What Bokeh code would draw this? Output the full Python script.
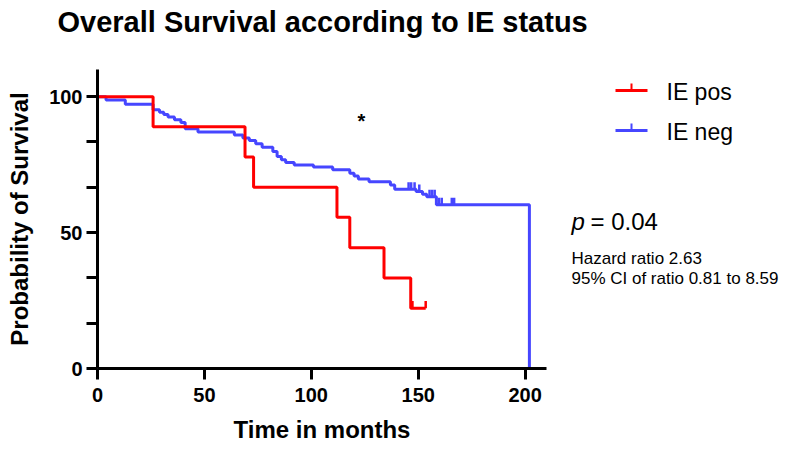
from bokeh.plotting import figure
from bokeh.layouts import column, row
from bokeh.models import Range1d, FixedTicker
from bokeh.core.properties import value
from bokeh.embed import file_html
from bokeh.resources import INLINE

# ---- data ----
pos_time = [0, 26, 69, 73, 112, 118, 134, 146.5, 153.5]
pos_surv = [100, 88.9, 77.8, 66.7, 55.6, 44.4, 33.3, 22.2, 22.2]
pos_cens_time = [147.3, 153.5]
pos_cens_surv = [22.2, 22.2]

neg_time = [0, 4, 13, 26, 29, 31, 33, 36, 39, 41, 47, 64, 68, 71, 74, 77, 82, 84, 86, 88,
            92, 101, 110, 118, 120, 122, 127, 137, 139, 149, 152, 154, 158.5, 202]
neg_surv = [100, 98.8, 97.2, 95.2, 94.3, 93.4, 92.5, 91.5, 90.5, 88.2, 87.0, 85.9, 84.8, 83.9,
            82.7, 81.4, 79.8, 78.0, 76.8, 75.8, 74.9, 74.1, 73.1, 71.8, 70.8, 69.7, 68.7, 67.5,
            65.9, 65.1, 64.1, 63.2, 60.2, 0]
neg_cens_time = [145.5, 146.7, 148.3, 150.5, 155.3, 156.5, 157.7, 159.7, 161.0, 165.7, 166.8]
neg_cens_surv = [65.9, 65.9, 65.9, 65.1, 63.2, 63.2, 63.2, 60.2, 60.2, 60.2, 60.2]

x_ticks = [0, 50, 100, 150, 200]
y_ticks = [0, 50, 100]
y_minor = [16.67, 33.33, 66.67, 83.33]

series_names = ["IE pos", "IE neg"]
colors = ["#ff0000", "#4646ff"]
title = "Overall Survival according to IE status"
x_title = "Time in months"
y_title = "Probability of Survival"
star_text = "*"
p_label = "p"
p_text = "= 0.04"
hr_lines = ["Hazard ratio 2.63", "95% CI of ratio 0.81 to 8.59"]

FONT = "Liberation Sans"
TICK = 2.6  # censor tick height (data units of the main plot)


def bare(fig):
    fig.grid.visible = False
    fig.outline_line_color = None
    return fig


# ---- title strip ----
t = bare(figure(width=794, height=45, x_range=Range1d(0, 794), y_range=Range1d(45, 0),
                title=None, x_axis_location=None, y_axis_location=None,
                output_backend="svg", toolbar_location=None, min_border=0))
t.text(x=[57], y=[21], text=[title], text_font=value(FONT), text_font_style="bold",
       text_font_size="29px", text_color="black", text_baseline="alphabetic")

# ---- main plot ----
p = bare(figure(width=560, height=410, x_range=Range1d(0, 210), y_range=Range1d(0, 110),
                title=None, output_backend="svg", toolbar_location=None,
                min_border_left=97, min_border_right=14, min_border_top=24,
                min_border_bottom=87))
p.xaxis.axis_label = x_title
p.yaxis.axis_label = y_title
for ax in (p.xaxis[0], p.yaxis[0]):
    ax.axis_line_width = 3
    ax.axis_line_color = "black"
    ax.major_tick_line_width = 3
    ax.major_tick_line_color = "black"
    ax.major_tick_in = 0
    ax.major_tick_out = 11
    ax.minor_tick_in = 0
    ax.minor_tick_out = 11
    ax.minor_tick_line_width = 3
    ax.minor_tick_line_color = "black"
    ax.major_label_text_font = FONT
    ax.major_label_text_font_style = "bold"
    ax.major_label_text_font_size = "20px"
    ax.major_label_text_color = "black"
    ax.axis_label_text_font = FONT
    ax.axis_label_text_font_style = "bold"
    ax.axis_label_text_font_size = "24px"
    ax.axis_label_text_color = "black"

p.xaxis.ticker = FixedTicker(ticks=x_ticks)
p.xaxis.major_label_standoff = 8
p.xaxis.axis_label_standoff = 11
p.yaxis.ticker = FixedTicker(ticks=y_ticks, minor_ticks=y_minor)
p.yaxis.major_label_standoff = 4
p.yaxis.axis_label_standoff = 13

p.step(neg_time, neg_surv, mode="after", line_color=colors[1], line_width=3)
p.segment(x0=neg_cens_time, y0=neg_cens_surv, x1=neg_cens_time,
          y1=[s + TICK for s in neg_cens_surv], line_color=colors[1], line_width=2.5)
p.step(pos_time, pos_surv, mode="after", line_color=colors[0], line_width=3)
p.segment(x0=pos_cens_time, y0=pos_cens_surv, x1=pos_cens_time,
          y1=[s + TICK for s in pos_cens_surv], line_color=colors[0], line_width=2.5)

p.text(x=[123.4], y=[91.2], text=[star_text], text_font=value(FONT), text_font_style="bold",
       text_font_size="20px", text_color="black", text_align="center",
       text_baseline="alphabetic")

# ---- side panel: legend and statistics (frame aligned with the main plot's frame) ----
s = bare(figure(width=234, height=410, x_range=Range1d(560, 794), y_range=Range1d(368, 69),
                title=None, x_axis_location=None, y_axis_location=None,
                output_backend="svg", toolbar_location=None,
                min_border_left=0, min_border_right=0, min_border_top=24,
                min_border_bottom=87))
leg_y = [90.0, 130.0]
for i, name in enumerate(series_names):
    s.line([615, 647], [leg_y[i], leg_y[i]], line_color=colors[i], line_width=3)
    s.segment(x0=[631], y0=[leg_y[i]], x1=[631], y1=[leg_y[i] - 7],
              line_color=colors[i], line_width=2)
    s.text(x=[666], y=[leg_y[i] + 1.5], text=[name], text_font=value(FONT),
           text_font_size="23px", text_color="black", text_baseline="alphabetic")

s.text(x=[571], y=[220.5], text=[p_label], text_font=value(FONT), text_font_style="italic",
       text_font_size="24px", text_color="black", text_baseline="alphabetic")
s.text(x=[590], y=[220.5], text=[p_text], text_font=value(FONT),
       text_font_size="24px", text_color="black", text_baseline="alphabetic")
s.text(x=[571, 571], y=[258, 278], text=hr_lines, text_font=value(FONT),
       text_font_size="17px", text_color="black", text_baseline="alphabetic")

layout = column(t, row(p, s))
open("out.html", "w").write(file_html(layout, INLINE))
